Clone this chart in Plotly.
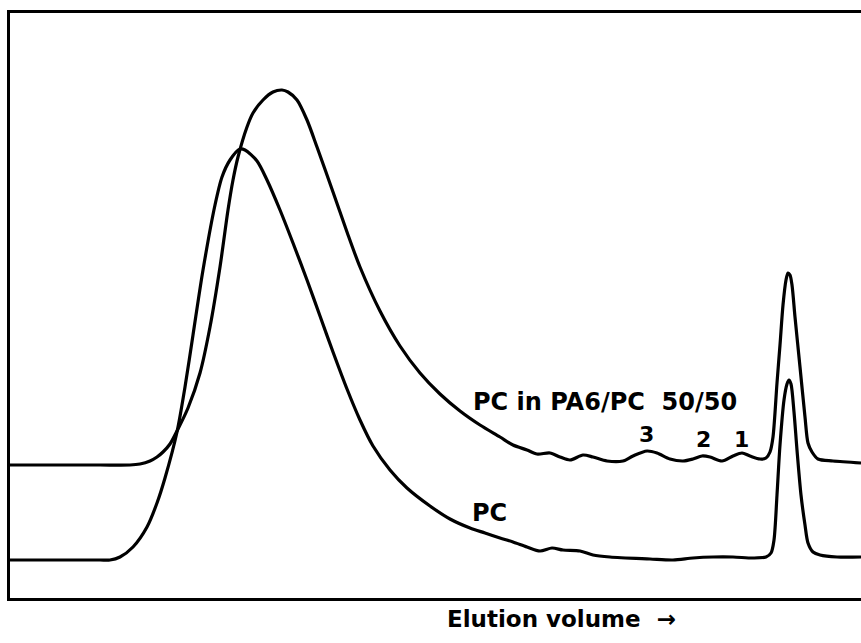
import plotly.graph_objects as go

# Elution volume (arbitrary units) and detector response (arbitrary units)
blend_volume = [10, 60, 100, 130, 140, 150, 157, 163, 170, 177, 188, 200, 210, 220, 228, 233,
                238, 247, 253, 263, 273, 282, 288, 297, 307, 317, 333, 347, 360, 380, 400,
                420, 440, 460, 480, 500, 513, 527, 537, 550, 560, 570, 583, 593, 607,
                623, 633, 647, 657, 670, 683, 693, 702, 710, 722, 733, 742, 750, 760, 766,
                770, 773, 777, 780, 783, 786, 788, 790, 792, 795, 800, 805, 808, 812, 818,
                833, 861]
blend_signal_raw = [465, 465, 465, 465, 464, 461, 457, 452, 444, 431, 408, 373, 327, 267, 210, 180,
                    157, 127, 113, 100, 92, 90, 92, 100, 120, 147, 192, 232, 267, 311, 346,
                    373, 394, 411, 425, 437, 445, 450, 454, 453, 457, 460, 455, 457, 461,
                    461, 456, 451, 453, 459, 461, 459, 456, 457, 461, 456, 453, 456, 459, 458,
                    452, 437, 383, 345, 305, 280, 273, 275, 285, 317, 367, 417, 443, 452, 459,
                    461, 463]

pc_volume = [10, 60, 100, 110, 120, 133, 147, 157, 165, 177, 185, 193, 203, 215, 222, 230,
             240, 245, 257, 267, 280, 293, 307, 320, 333, 347, 360, 373, 390, 407, 430, 450,
             470, 485, 500, 513, 527, 540, 552, 563, 580, 593, 610, 650, 673, 693, 713, 733,
             753, 766, 771, 774, 777, 780, 784, 787, 789, 791, 794, 797, 801, 805, 808, 813,
             820, 837, 861]
pc_signal_raw = [560, 560, 560, 560, 557, 547, 527, 503, 478, 432, 387, 335, 270, 205, 177, 160,
                 149, 150, 161, 180, 210, 243, 280, 316, 352, 389, 420, 446, 470, 488, 506, 519,
                 528, 533, 538, 542, 547, 551, 548, 550, 551, 555, 557, 559, 560, 558, 557, 557,
                 558, 557, 553, 540, 495, 445, 400, 384, 380, 384, 412, 450, 495, 525, 543, 552,
                 555, 557, 557]

BASE = 598
blend_signal = [BASE - v for v in blend_signal_raw]
pc_signal = [BASE - v for v in pc_signal_raw]

curve_labels = ["PC in PA6/PC  50/50", "PC"]
curve_label_x = [605, 489]
curve_label_y = [BASE - 402, BASE - 513]
peak_labels = ["3", "2", "1"]
peak_label_x = [646, 703, 741]
peak_label_y = [BASE - 434, BASE - 439, BASE - 439]
axis_title = "Elution volume  →"

FONT = "DejaVu Sans"
line_style = dict(color="black", width=3.2, shape="spline", smoothing=0.8)

fig = go.Figure()
fig.add_trace(go.Scatter(x=blend_volume, y=blend_signal, mode="lines", line=line_style,
                         name=curve_labels[0], hoverinfo="skip"))
fig.add_trace(go.Scatter(x=pc_volume, y=pc_signal, mode="lines", line=line_style,
                         name=curve_labels[1], hoverinfo="skip"))

for t, px, py in zip(curve_labels, curve_label_x, curve_label_y):
    fig.add_annotation(x=px, y=py, text="<b>" + t + "</b>", showarrow=False,
                       font=dict(family=FONT, size=24, color="black"),
                       xanchor="center", yanchor="middle")
for t, px, py in zip(peak_labels, peak_label_x, peak_label_y):
    fig.add_annotation(x=px, y=py, text="<b>" + t + "</b>", showarrow=False,
                       font=dict(family=FONT, size=22, color="black"),
                       xanchor="center", yanchor="middle")
fig.add_annotation(x=561, xref="x", y=(BASE - 619) / 585, yref="paper",
                   text="<b>" + axis_title + "</b>", showarrow=False,
                   font=dict(family=FONT, size=23, color="black"),
                   xanchor="center", yanchor="middle")

fig.update_layout(
    width=861, height=643,
    margin=dict(l=10, r=0, t=13, b=45),
    paper_bgcolor="white", plot_bgcolor="white",
    showlegend=False,
    xaxis=dict(range=[10, 861], showgrid=False, zeroline=False, showticklabels=False, ticks="",
               showline=True, linecolor="black", linewidth=3, mirror=True),
    yaxis=dict(range=[0, 585], showgrid=False, zeroline=False, showticklabels=False, ticks="",
               showline=True, linecolor="black", linewidth=3, mirror=False),
)

fig.write_html("out.html")
